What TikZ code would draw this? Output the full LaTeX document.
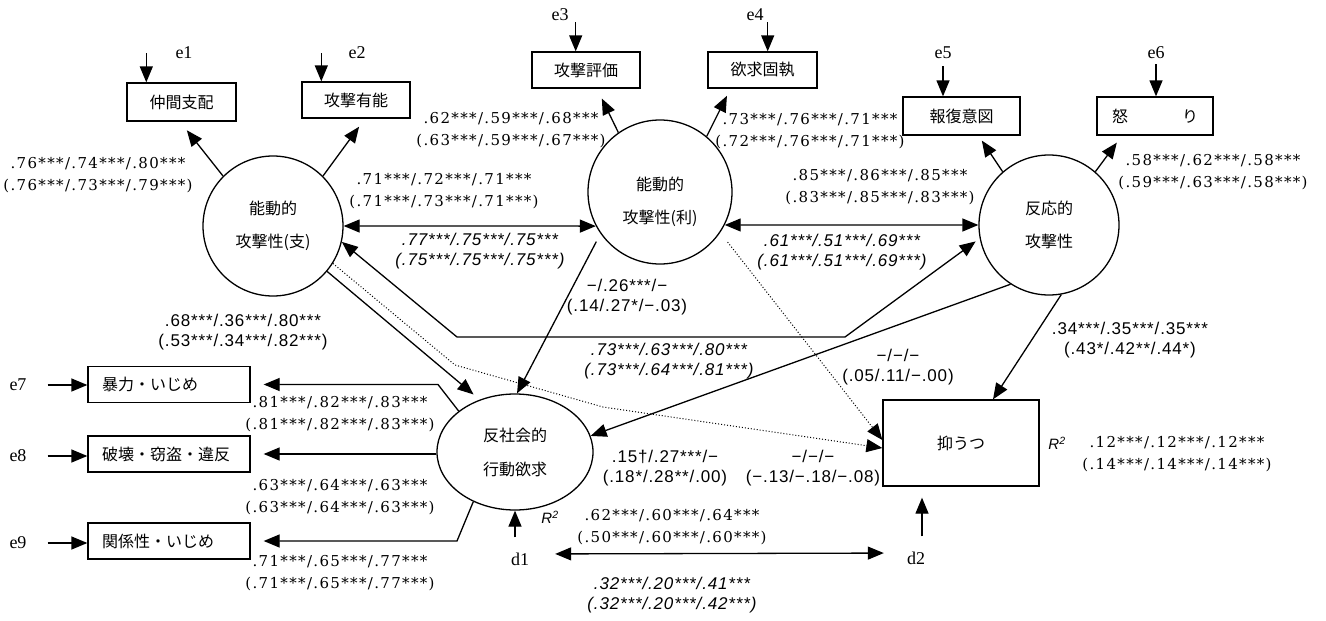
\documentclass[tikz,border=0pt]{standalone}
\usepackage{fontspec}
\setmainfont{Liberation Serif}
\newfontfamily\ser[LetterSpace=9]{DejaVu Serif}
\newfontfamily\san[LetterSpace=5]{Liberation Sans}
\newfontfamily\jp{Noto Sans CJK JP}
\usetikzlibrary{arrows.meta,shapes.geometric}
\tikzset{
  tipa/.tip={Triangle[length=16pt,width=13pt]},
  arr/.style={line width=1.3pt, -tipa},
  darr/.style={line width=1.3pt, tipa-tipa},
  dotarr/.style={line width=1pt, dotted, -tipa},
  latent/.style={circle, draw, line width=1.3pt, minimum size=140pt, inner sep=0pt,
    font=\jp\fontsize{16}{33}\selectfont, align=center},
  jtext/.style={font=\jp\fontsize{16}{33}\selectfont, align=center, inner sep=0pt},
  obs/.style={rectangle, draw, line width=1.3pt, inner sep=0pt, font=\jp\fontsize{16}{20}\selectfont},
  leftobs/.style={obs, minimum width=162pt, minimum height=36pt, text width=134pt, align=left},
  lab/.style={font=\ser\fontsize{15}{22}\selectfont, align=center, inner sep=0pt},
  slab/.style={font=\san\fontsize{17}{20}\selectfont, align=center, inner sep=0pt},
  ilab/.style={font=\san\itshape\fontsize{17}{20}\selectfont, align=center, inner sep=0pt},
  rlab/.style={font=\san\itshape\fontsize{15}{18}\selectfont, inner sep=0pt},
  elab/.style={font=\fontsize{18}{20}\selectfont, inner sep=1pt},
}
\begin{document}
\begin{tikzpicture}[x=1pt,y=-1pt]
\fill[white] (0,0) rectangle (1326,621);
\path[use as bounding box] (0,0) rectangle (1326,621);

% latent variables
\node[latent] (c1) at (273,226) {能動的\\攻撃性(支)};
\node[latent, minimum size=144pt] (c2) at (660,192) {};
\node[jtext] (c2t) at (660,202) {能動的\\攻撃性(利)};
\node[latent] (c3) at (1049,225) {反応的\\攻撃性};
\node[ellipse, draw, line width=1.3pt, minimum width=156pt, minimum height=116pt, inner sep=0pt,
  font=\jp\fontsize{16}{34}\selectfont, align=center] (E) at (515,452) {反社会的\\行動欲求};

% observed variables
\node[obs, minimum width=109pt, minimum height=38pt] (b1) at (181.5,102) {仲間支配};
\node[obs, minimum width=108pt, minimum height=36pt] (b2) at (356,100) {攻撃有能};
\node[obs, minimum width=108pt, minimum height=36pt] (b3) at (586,70) {攻撃評価};
\node[obs, minimum width=109pt, minimum height=36pt] (b4) at (762.5,70) {欲求固執};
\node[obs, minimum width=117pt, minimum height=38pt] (b5) at (961.5,116) {報復意図};
\node[obs, minimum width=116pt, minimum height=38pt] (b6) at (1155,116) {怒\hspace{54pt}り};
\node[leftobs] (L1) at (169,384.5) {暴力・いじめ};
\node[leftobs] (L2) at (169,454) {破壊・窃盗・違反};
\node[leftobs] (L3) at (169,541) {関係性・いじめ};
\node[obs, minimum width=156pt, minimum height=86pt] (D) at (961,443) {抑うつ};

% error / disturbance labels
\node[elab] (e1) at (184,53) {e1};
\node[elab] (e2) at (357,53) {e2};
\node[elab] (e3) at (560,15) {e3};
\node[elab] (e4) at (755,15) {e4};
\node[elab] (e5) at (943,53) {e5};
\node[elab] (e6) at (1156,53) {e6};
\node[elab] (e7) at (18,385) {e7};
\node[elab] (e8) at (18,456) {e8};
\node[elab] (e9) at (18,543) {e9};
\node[elab] (d1) at (520,559) {d1};
\node[elab] (d2) at (916,558) {d2};

% error arrows
\draw[arr] ([xshift=-28pt]e1.west) -- ([xshift=-28pt]e1.west |- b1.north);
\draw[arr] ([xshift=-26pt]e2.west) -- ([xshift=-26pt]e2.west |- b2.north);
\draw[arr] ([xshift=6pt]e3.south east) -- ([xshift=6pt]e3.south east |- b3.north);
\draw[arr] ([xshift=3pt]e4.south east) -- ([xshift=3pt]e4.south east |- b4.north);
\draw[arr, shorten <=6pt] (e5.south) -- (e5.south |- b5.north);
\draw[arr, shorten <=4pt] (e6.south) -- (e6.south |- b6.north);
\draw[arr, shorten <=20pt] (e7.east) -- (e7.east -| L1.west);
\draw[arr, shorten <=20pt] (e8.east) -- (e8.east -| L2.west);
\draw[arr, shorten <=20pt] (e9.east) -- (e9.east -| L3.west);
\draw[arr, shorten <=14pt] (d1.north -| E.south) -- (E.south);
\draw[arr, shorten <=14pt, shorten >=11pt] ([xshift=6pt]d2.north) -- ([xshift=6pt]d2.north |- D.south);
\draw[darr, shorten <=25pt, shorten >=22pt] ([yshift=5pt]d1.east) -- ([yshift=5pt]d2.west);

% loadings
\draw[arr, shorten >=11pt] (c1.135) -- ([xshift=-1.5pt]b1.south);
\draw[arr, shorten >=10pt] (c1.45) -- ([xshift=9pt]b2.south);
\draw[arr, shorten >=11pt] (c2.125) -- ([xshift=11pt]b3.south);
\draw[arr, shorten >=8pt] (c2.50) -- ([xshift=-32pt]b4.south);
\draw[arr, shorten >=6pt] (c3.131) -- ([xshift=17pt]b5.south);
\draw[arr, shorten >=8.7pt] (c3.49) -- ([xshift=-33pt]b6.south);

% correlations
\draw[darr] (c1.east) -- (c2.208);
\draw[darr] (c2.333) -- (c3.west);
\draw[darr, shorten >=5pt] (c1.-13) -- (457,337) -- (845,337) -- (c3.191);

% paths
\draw[arr, shorten >=8pt] (c1.-40) -- (E.124);
\draw[dotarr] (c1.-32) -- (455,365) -- (603,407) -- ([yshift=-5pt]D.west);
\draw[dotarr, shorten <=12pt] (c2.-34) -- ([yshift=3pt]D.west);
\draw[arr, shorten <=9pt] (c2.215) -- (E.88);
\draw[arr] (c3.237) -- (E.12);
\draw[arr] (c3.-80) -- ([xshift=32pt]D.north);
\draw[arr, shorten >=13pt] (E.144) -- (438,384.5) -- (L1.east);
\draw[arr, shorten >=13pt] (L2.east -| E.west) -- (L2.east);
\draw[arr, shorten >=13pt] (E.230) -- (457,541) -- (L3.east);

% coefficient labels
\node[lab] (l1) at (98,175.5) {.76***/.74***/.80***\\(.76***/.73***/.79***)};
\node[lab] (l2) at (444,191) {.71***/.72***/.71***\\(.71***/.73***/.71***)};
\node[lab] (l3) at (511,130.5) {.62***/.59***/.68***\\(.63***/.59***/.67***)};
\node[lab] (l4) at (810,131.5) {.73***/.76***/.71***\\(.72***/.76***/.71***)};
\node[lab] (l5) at (880,187.5) {.85***/.86***/.85***\\(.83***/.85***/.83***)};
\node[lab] (l6) at (1213,172.5) {.58***/.62***/.58***\\(.59***/.63***/.58***)};
\node[ilab] (l7) at (480,251) {.77***/.75***/.75***\\(.75***/.75***/.75***)};
\node[ilab] (l8) at (842,252.5) {.61***/.51***/.69***\\(.61***/.51***/.69***)};
\node[slab] (l9) at (627,297) {−/.26***/−\\(.14/.27*/−.03)};
\node[ilab] (l10) at (669,361) {.73***/.63***/.80***\\(.73***/.64***/.81***)};
\node[slab] (l11) at (898,367.5) {−/−/−\\(.05/.11/−.00)};
\node[slab] (l12) at (1130,340) {.34***/.35***/.35***\\(.43*/.42**/.44*)};
\node[slab] (l13) at (243,332.5) {.68***/.36***/.80***\\(.53***/.34***/.82***)};
\node[lab] (l14) at (340,414.5) {.81***/.82***/.83***\\(.81***/.82***/.83***)};
\node[lab] (l15) at (340,497) {.63***/.64***/.63***\\(.63***/.64***/.63***)};
\node[lab] (l16) at (340,573) {.71***/.65***/.77***\\(.71***/.65***/.77***)};
\node[slab] (l17) at (665,468) {.15†/.27***/−\\(.18*/.28**/.00)};
\node[slab] (l18) at (813,468) {−/−/−\\(−.13/−.18/−.08)};
\node[lab] (l19) at (672,527) {.62***/.60***/.64***\\(.50***/.60***/.60***)};
\node[ilab] (l20) at (672,595) {.32***/.20***/.41***\\(.32***/.20***/.42***)};
\node[lab] (l21) at (1177,454) {.12***/.12***/.12***\\(.14***/.14***/.14***)};
\node[rlab] (r1) at (550,517) {R\textsuperscript{2}};
\node[rlab] (r2) at (1057,443) {R\textsuperscript{2}};
\end{tikzpicture}
\end{document}
